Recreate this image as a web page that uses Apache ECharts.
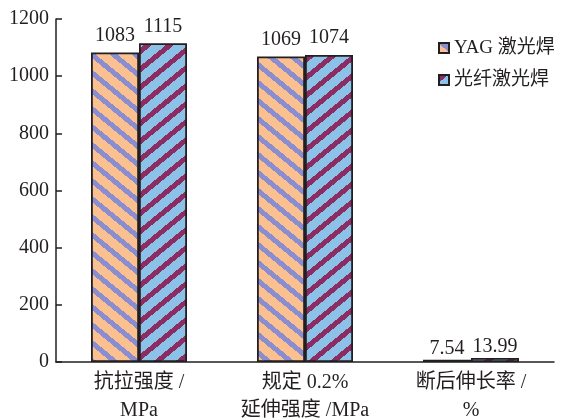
<!DOCTYPE html>
<html>
<head>
<meta charset="utf-8">
<script src="https://cdn.jsdelivr.net/npm/echarts@6/dist/echarts.min.js"></script>
<style>
  html, body { margin: 0; padding: 0; background: #fff; }
  #chart { width: 566px; height: 420px; }
</style>
</head>
<body>
<div id="chart"></div>
<script>
// Mechanical properties: YAG laser welding vs fibre laser welding
const categories = ['抗拉强度 /\nMPa', '规定 0.2%\n延伸强度 /MPa', '断后伸长率 /\n%'];
const seriesNames = ['YAG 激光焊', '光纤激光焊'];
const yagValues = [1083, 1069, 7.54];
const fiberValues = [1115, 1074, 13.99];
const yTicks = [0, 200, 400, 600, 800, 1000, 1200];

const INK = '#231f20';
const FONT = "'Liberation Serif', 'Times New Roman', 'Noto Sans CJK SC', serif";

// Build a tileable diagonal stripe pattern as a canvas
function stripePattern(bg, fg, dir) {
  const W = 22, H = 18, stripe = 8;
  const c = document.createElement('canvas');
  c.width = W; c.height = H;
  const ctx = c.getContext('2d');
  const img = ctx.createImageData(W, H);
  const hex = s => [parseInt(s.slice(1, 3), 16), parseInt(s.slice(3, 5), 16), parseInt(s.slice(5, 7), 16)];
  const b = hex(bg), f = hex(fg);
  for (let y = 0; y < H; y++) {
    for (let x = 0; x < W; x++) {
      const shift = Math.floor(y * W / H);
      let u = dir > 0 ? (x - shift) : (x + shift);
      u = ((u % W) + W) % W;
      const col = u < stripe ? f : b;
      const i = (y * W + x) * 4;
      img.data[i] = col[0]; img.data[i + 1] = col[1]; img.data[i + 2] = col[2]; img.data[i + 3] = 255;
    }
  }
  ctx.putImageData(img, 0, 0);
  return c;
}

const yagFill = { image: stripePattern('#fbc08f', '#8a8ed0', 1), repeat: 'repeat' };
const fiberFill = { image: stripePattern('#8cc2e8', '#8b2d62', -1), repeat: 'repeat' };

const chart = echarts.init(document.getElementById('chart'), null, { renderer: 'canvas' });

const labelStyle = {
  show: true,
  position: 'top',
  distance: 7,
  color: INK,
  fontFamily: FONT,
  fontSize: 20
};

// Elongation bars are tiny; their value labels sit closer to the bar
const withLabels = values => values.map((v, i) =>
  i === 2 ? { value: v, label: { distance: 1 } } : v);

chart.setOption({
  animation: false,
  backgroundColor: '#ffffff',
  textStyle: { fontFamily: FONT, color: INK },
  grid: { left: 56, right: 12, top: 19, bottom: 58, containLabel: false, outerBoundsMode: 'none' },
  legend: {
    orient: 'vertical',
    left: 433,
    top: 33,
    icon: 'rect',
    itemWidth: 10,
    itemHeight: 10,
    itemGap: 12,
    data: seriesNames,
    textStyle: { fontFamily: FONT, fontSize: 19, color: INK, lineHeight: 20 }
  },
  xAxis: {
    type: 'category',
    data: categories,
    axisLine: { lineStyle: { color: INK, width: 1.5 } },
    axisTick: { inside: true, length: 6, lineStyle: { color: INK, width: 1.5 } },
    axisLabel: {
      color: INK,
      fontFamily: FONT,
      fontSize: 20,
      lineHeight: 28,
      margin: 7,
      interval: 0
    }
  },
  yAxis: {
    type: 'value',
    min: yTicks[0],
    max: yTicks[yTicks.length - 1],
    interval: 200,
    splitLine: { show: false },
    axisLine: { show: true, lineStyle: { color: INK, width: 1.5 } },
    axisTick: { show: true, inside: true, length: 6, lineStyle: { color: INK, width: 1.5 } },
    axisLabel: { color: INK, fontFamily: FONT, fontSize: 20, margin: 7, formatter: v => String(v) }
  },
  series: [
    {
      name: seriesNames[0],
      type: 'bar',
      data: withLabels(yagValues),
      barWidth: 48,
      barGap: '0%',
      itemStyle: { color: yagFill, borderColor: INK, borderWidth: 1.8 },
      label: labelStyle
    },
    {
      name: seriesNames[1],
      type: 'bar',
      data: withLabels(fiberValues),
      barWidth: 48,
      itemStyle: { color: fiberFill, borderColor: INK, borderWidth: 1.8 },
      label: labelStyle
    }
  ]
});
</script>
</body>
</html>
